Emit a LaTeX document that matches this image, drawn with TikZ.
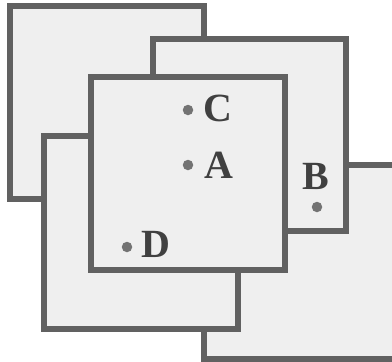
\documentclass[tikz,border=0pt]{standalone}
\usepackage{fontspec}
\setmainfont{Liberation Serif}
\definecolor{sqfill}{HTML}{EFEFEF}
\definecolor{sqline}{HTML}{616161}
\definecolor{dotc}{HTML}{737373}
\definecolor{txtc}{HTML}{404040}
\tikzset{
  sq/.style={draw=sqline, fill=sqfill, line width=6pt, line join=miter},
  pt/.style={circle, fill=dotc, inner sep=0pt, minimum size=10.5pt},
  lbl/.style={anchor=base west, inner sep=0pt, text=txtc, font=\fontsize{40}{42}\selectfont\bfseries}
}
\begin{document}
\begin{tikzpicture}[x=1pt,y=-1pt]
\useasboundingbox (0,0) rectangle (392,362);
\draw[sq] (10,6) rectangle ++(194,193);
\draw[sq] (204,165) rectangle ++(194,194);
\draw[sq] (153,39) rectangle ++(193,192);
\draw[sq] (44,136) rectangle ++(194,193);
\draw[sq] (91,77) rectangle ++(194,193);
\node[pt] (c) at (188,110) {};
\node[pt] (a) at (188,165) {};
\node[pt] (b) at (317,207) {};
\node[pt] (d) at (127,247) {};
\node[lbl] (lc) at (203,121) {C};
\node[lbl] (la) at (204,178) {A};
\node[lbl] (lb) at (302,189) {B};
\node[lbl] (ld) at (141,257) {D};
\end{tikzpicture}
\end{document}
